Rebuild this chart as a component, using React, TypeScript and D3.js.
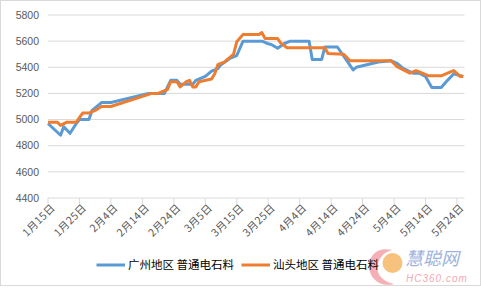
import React from "react";
import * as d3 from "d3";

const yTicks = [4400, 4600, 4800, 5000, 5200, 5400, 5600, 5800];
const xTickLabels = ["1月15日","1月25日","2月4日","2月14日","2月24日","3月5日","3月15日","3月25日","4月4日","4月14日","4月24日","5月4日","5月14日","5月24日"];
const xTickDates = ["01-15","01-25","02-04","02-14","02-24","03-05","03-15","03-25","04-04","04-14","04-24","05-04","05-14","05-24"];

const gzDates = ["01-15","01-19","01-20","01-22","01-24","01-25","01-28","01-29","02-01","02-04","02-16","02-21","02-23","02-25","02-26","03-01","03-02","03-05","03-07","03-09","03-10","03-13","03-15","03-17","03-23","03-25","03-26","03-28","03-30","04-01","04-07","04-08","04-11","04-12","04-16","04-21","04-22","04-29","05-03","05-05","05-07","05-10","05-12","05-14","05-16","05-19","05-21","05-23","05-26"];
const gzValues = [4970,4880,4945,4895,4970,5000,5000,5070,5130,5130,5200,5200,5300,5300,5270,5270,5300,5330,5370,5390,5420,5470,5490,5600,5600,5580,5575,5545,5580,5600,5600,5460,5460,5555,5555,5380,5400,5440,5450,5430,5390,5355,5355,5330,5245,5245,5300,5350,5330];

const stDates = ["01-15","01-18","01-19","01-21","01-24","01-26","01-28","01-30","02-01","02-04","02-17","02-19","02-22","02-23","02-25","02-26","02-28","02-29","03-01","03-02","03-03","03-07","03-08","03-09","03-11","03-13","03-14","03-15","03-17","03-22","03-23","03-24","03-28","03-29","03-31","04-12","04-13","04-18","04-20","05-03","05-05","05-09","05-11","05-13","05-15","05-19","05-21","05-23","05-25","05-26"];
const stValues = [4980,4980,4955,4980,4980,5050,5050,5070,5100,5100,5200,5200,5230,5290,5290,5250,5290,5300,5250,5250,5290,5310,5350,5420,5440,5480,5500,5595,5650,5650,5665,5620,5620,5585,5550,5550,5505,5500,5450,5450,5405,5355,5375,5355,5335,5335,5355,5375,5330,5330];

const seriesNames = ["广州地区 普通电石料", "汕头地区 普通电石料"];
const colors = ["#5b9bd5", "#ed7d31"];

const parse = (s: string) => new Date(`2016-${s}T00:00:00`);

export default function App() {
  const W = 481, H = 289;
  const left = 48, right = 464.5, top = 15, bottom = 198;
  const start = parse("01-15");
  const end = new Date(start.getTime() + 132.4 * 86400000);
  const x = d3.scaleTime().domain([start, end]).range([left, right]);
  const y = d3.scaleLinear().domain([4400, 5800]).range([bottom, top]);
  const line = d3.line<[Date, number]>().x(d => x(d[0])).y(d => y(d[1]));
  const gz: [Date, number][] = gzDates.map((d, i) => [parse(d), gzValues[i]]);
  const st: [Date, number][] = stDates.map((d, i) => [parse(d), stValues[i]]);
  const font = "'Liberation Sans', Arial, sans-serif";
  const cjk = "'Noto Sans CJK SC', sans-serif";
  return (
    <svg width={W} height={H} style={{ position: "absolute", left: 0, top: 0 }}>
      <rect x={0.5} y={0.5} width={W - 1} height={H - 4} fill="#fff" stroke="#d9d9d9" />
      {yTicks.map(t => (
        <g key={t}>
          <line x1={left} x2={right} y1={y(t)} y2={y(t)} stroke="#d9d9d9" strokeWidth={1} />
          <text x={39} y={y(t)} dy="0.35em" textAnchor="end" fontSize={10.5} fill="#595959" fontFamily={font}>{t}</text>
        </g>
      ))}
      {xTickDates.map((d, i) => {
        const xx = x(parse(d));
        return (
          <g key={d}>
            <line x1={xx} x2={xx} y1={bottom} y2={bottom + 6} stroke="#d9d9d9" />
            <text transform={`translate(${xx + 5},${bottom + 8}) rotate(-45)`} textAnchor="end" dy="0.35em" fontSize={10.5} letterSpacing={0.4} fill="#595959" fontFamily={cjk}>{xTickLabels[i]}</text>
          </g>
        );
      })}
      <path d={line(gz) || ""} fill="none" stroke={colors[0]} strokeWidth={3} strokeLinejoin="round" />
      <path d={line(st) || ""} fill="none" stroke={colors[1]} strokeWidth={3} strokeLinejoin="round" />
      {/* watermark */}
      <g opacity={0.85}>
        <path d="M392,250 C376,246 366,258 370,272 C373,282 384,287 394,284 C382,282 375,273 378,263 C381,254 388,251 392,250 Z" fill="#f07c84" opacity={0.7} />
        <circle cx={392.5} cy={263} r={10} fill="#f5b868" />
        <text x={405} y={265} fontSize={18} fontStyle="italic" fill="#8ea6d8" fontFamily={cjk}>慧聪网</text>
        <text x={406} y={282} fontSize={10} fontStyle="italic" fill="#f29aa6" fontFamily={font} letterSpacing={1}>HC360.com</text>
      </g>
      {/* legend */}
      <line x1={96.5} x2={125} y1={265} y2={265} stroke={colors[0]} strokeWidth={3} />
      <text x={128} y={265} dy="0.35em" fontSize={11.5} fill="#000" fontFamily={cjk}>{seriesNames[0]}</text>
      <line x1={241.5} x2={270} y1={265} y2={265} stroke={colors[1]} strokeWidth={3} />
      <text x={273} y={265} dy="0.35em" fontSize={11.5} fill="#000" fontFamily={cjk}>{seriesNames[1]}</text>
    </svg>
  );
}
